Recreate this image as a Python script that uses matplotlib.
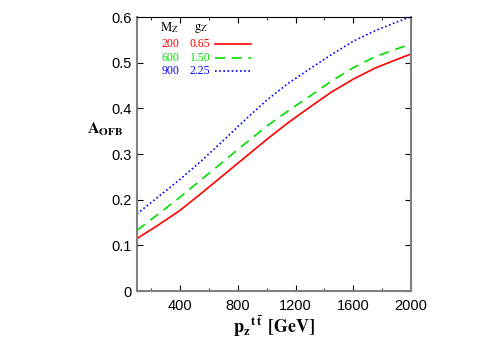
import matplotlib
matplotlib.use("Agg")
import matplotlib.pyplot as plt
from matplotlib.ticker import MultipleLocator

# valeurs
pz = [100, 250, 400, 550, 700, 850, 1000, 1150, 1300, 1450, 1600, 1750, 1900, 2000]
a_200 = [0.115, 0.145, 0.177, 0.215, 0.254, 0.293, 0.332, 0.369, 0.403, 0.436, 0.464, 0.488, 0.507, 0.519]
a_600 = [0.133, 0.169, 0.206, 0.245, 0.284, 0.323, 0.361, 0.395, 0.427, 0.460, 0.489, 0.513, 0.530, 0.541]
a_900 = [0.169, 0.207, 0.245, 0.286, 0.330, 0.375, 0.418, 0.455, 0.487, 0.518, 0.547, 0.570, 0.589, 0.601]

masses = ["200", "600", "900"]
couplages = ["0.65", "1.50", "2.25"]
couleurs = ["red", "#00dd00", "blue"]
styles = ["-", (0, (6, 4)), (0, (1, 1.5))]

fig = plt.figure(figsize=(4.98, 3.49), dpi=100)
ax = fig.add_axes([0.275, 0.166, 0.550, 0.785])

for y, c, ls in zip([a_200, a_600, a_900], couleurs, styles):
    ax.plot(pz, y, color=c, linestyle=ls, linewidth=1.2)

ax.set_xlim(100, 2000)
ax.set_ylim(0, 0.6)
ax.set_xticks([400, 800, 1200, 1600, 2000])
ax.xaxis.set_minor_locator(MultipleLocator(200))
ax.set_yticks([0, 0.1, 0.2, 0.3, 0.4, 0.5, 0.6])
ax.set_yticklabels(["0", "0.1", "0.2", "0.3", "0.4", "0.5", "0.6"])
ax.tick_params(which="both", direction="in", top=True, right=True, labelsize=10.5)
ax.tick_params(which="major", length=4)
ax.tick_params(which="minor", length=2)
ax.tick_params(axis="x", pad=6)
for lab in ax.get_xticklabels() + ax.get_yticklabels():
    lab.set_family("Liberation Sans")
for s in ["left", "right", "bottom"]:
    ax.spines[s].set_color("gray")
    ax.spines[s].set_linewidth(1.5)

serif = "Liberation Serif"
fig.text(0.175, 0.628, r"$\mathbf{A}_{\mathbf{OFB}}$", fontsize=11.5,
         ha="left", va="center", math_fontfamily="stix")
fig.text(0.55, 0.065, r"$\mathbf{p_z}^{\mathbf{t\;\bar{t}}}$ $\mathbf{[GeV]}$", fontsize=13,
         ha="center", va="center", math_fontfamily="stix")

# legende faite a la main
fig.text(0.341, 0.90, r"$\mathrm{M}_{\mathrm{Z}^{\prime}}$", fontsize=9, ha="center", va="bottom",
         math_fontfamily="stix")
fig.text(0.404, 0.90, r"$\mathrm{g}_{\mathrm{Z}^{\prime}}$", fontsize=9, ha="center", va="bottom",
         math_fontfamily="stix")
for i in range(3):
    yy = 0.873 - i * 0.038
    fig.text(0.325, yy, masses[i], fontsize=8.5, family=serif, color=couleurs[i], va="center")
    fig.text(0.381, yy, couplages[i], fontsize=8.5, family=serif, color=couleurs[i], va="center")
    fig.add_artist(plt.Line2D([0.432, 0.505], [yy, yy], color=couleurs[i],
                              linestyle=styles[i], linewidth=1.2, transform=fig.transFigure))

fig.savefig("out.png", dpi=100)
